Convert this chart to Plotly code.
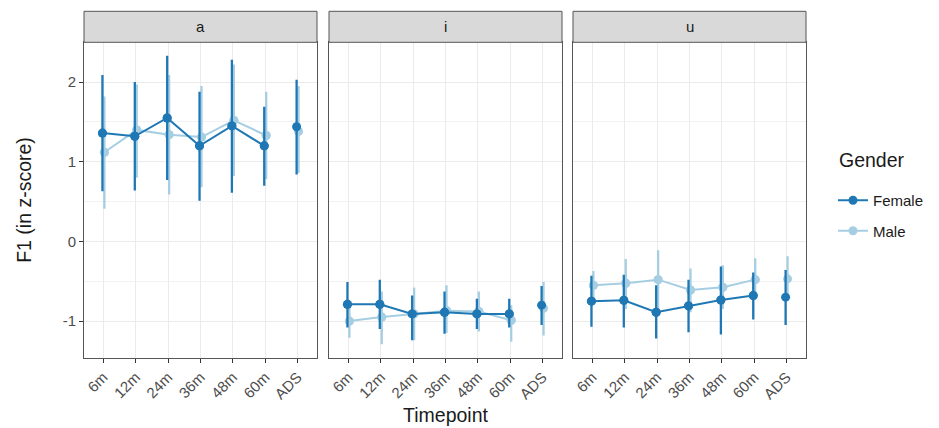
import plotly.graph_objects as go

categories = ["6m", "12m", "24m", "36m", "48m", "60m", "ADS"]
panels = ["a", "i", "u"]
y_ticks = [-1, 0, 1, 2]
y_tick_labels = ["-1", "0", "1", "2"]

# Female: mean, lower, upper per panel
female_a = [1.36, 1.32, 1.55, 1.20, 1.45, 1.20, 1.44]
female_a_lo = [0.63, 0.64, 0.77, 0.51, 0.61, 0.70, 0.84]
female_a_hi = [2.09, 2.00, 2.33, 1.88, 2.28, 1.69, 2.03]
male_a = [1.12, 1.40, 1.34, 1.31, 1.52, 1.33, 1.38]
male_a_lo = [0.41, 0.80, 0.59, 0.68, 0.82, 0.78, 0.86]
male_a_hi = [1.82, 1.97, 2.09, 1.95, 2.22, 1.88, 1.95]

female_i = [-0.79, -0.79, -0.91, -0.89, -0.91, -0.91, -0.80]
female_i_lo = [-1.08, -1.10, -1.24, -1.16, -1.10, -1.08, -1.05]
female_i_hi = [-0.51, -0.48, -0.68, -0.63, -0.72, -0.72, -0.56]
male_i = [-1.00, -0.95, -0.91, -0.87, -0.88, -0.99, -0.84]
male_i_lo = [-1.21, -1.29, -1.24, -1.15, -1.13, -1.26, -1.18]
male_i_hi = [-0.80, -0.63, -0.58, -0.55, -0.63, -0.80, -0.51]

female_u = [-0.75, -0.74, -0.89, -0.81, -0.735, -0.68, -0.70]
female_u_lo = [-1.07, -1.08, -1.22, -1.14, -1.17, -0.98, -1.05]
female_u_hi = [-0.43, -0.42, -0.55, -0.48, -0.315, -0.39, -0.36]
male_u = [-0.55, -0.525, -0.48, -0.61, -0.575, -0.48, -0.47]
male_u_lo = [-0.72, -0.85, -0.85, -0.89, -0.85, -0.72, -0.72]
male_u_hi = [-0.37, -0.22, -0.11, -0.34, -0.30, -0.21, -0.185]

data = {
    "a": {"Female": (female_a, female_a_lo, female_a_hi), "Male": (male_a, male_a_lo, male_a_hi)},
    "i": {"Female": (female_i, female_i_lo, female_i_hi), "Male": (male_i, male_i_lo, male_i_hi)},
    "u": {"Female": (female_u, female_u_lo, female_u_hi), "Male": (male_u, male_u_lo, male_u_hi)},
}

colors = {"Female": "#1f78b4", "Male": "#a6cee3"}
dodge = {"Female": -0.03, "Male": 0.03}

# page body has an 8px margin; lay out in figure pixels = page pixels - 8
OFF = 8
W, H = 939 - OFF, 428 - OFF
x_px = [(84 - OFF, 317 - OFF), (329 - OFF, 562 - OFF), (573 - OFF, 806 - OFF)]
y_top, y_bot = 42.3 - OFF, 357.7 - OFF
strip_top = 11.3 - OFF

fig = go.Figure()

for pi, p in enumerate(panels):
    xa = "x" if pi == 0 else f"x{pi+1}"
    ya = "y" if pi == 0 else f"y{pi+1}"
    for g in ["Male", "Female"]:
        m, lo, hi = data[p][g]
        xs = [k + dodge[g] for k in range(len(categories))]
        n_conn = 6  # ADS not connected to the timeline
        fig.add_trace(go.Scatter(
            x=xs, y=m, mode="markers", xaxis=xa, yaxis=ya,
            marker=dict(color=colors[g], size=9),
            error_y=dict(type="data", symmetric=False,
                         array=[h - v for h, v in zip(hi, m)],
                         arrayminus=[v - l for v, l in zip(m, lo)],
                         color=colors[g], thickness=2.3, width=0),
            showlegend=False, hoverinfo="skip"))
        fig.add_trace(go.Scatter(
            x=xs[:n_conn], y=m[:n_conn], mode="lines+markers", xaxis=xa, yaxis=ya,
            line=dict(color=colors[g], width=2),
            marker=dict(color=colors[g], size=9),
            name=g, legendgroup=g, legendrank=1 if g == "Female" else 2,
            showlegend=(pi == 0)))

layout = dict(
    width=W, height=H, margin=dict(l=0, r=0, t=0, b=0),
    plot_bgcolor="white", paper_bgcolor="white",
    font=dict(family="Liberation Sans, Arial, sans-serif", color="#4d4d4d", size=15),
    showlegend=True,
    legend=dict(x=(833 - OFF) / W, y=1 - (184 - OFF) / H, xanchor="left", yanchor="top",
                font=dict(size=15, color="#1a1a1a"), tracegroupgap=8,
                bgcolor="rgba(0,0,0,0)"),
)

shapes = []
annotations = []
for pi, p in enumerate(panels):
    sx = "" if pi == 0 else str(pi + 1)
    x0, x1 = x_px[pi]
    layout[f"xaxis{sx}"] = dict(
        domain=[x0 / W, x1 / W], anchor=f"y{sx}", range=[-0.6, 6.6],
        tickmode="array", tickvals=list(range(len(categories))), ticktext=categories,
        tickangle=-45, ticks="outside", ticklen=4, tickcolor="#333333", tickwidth=1,
        showgrid=True, gridcolor="#ebebeb", gridwidth=1, zeroline=False,
        showline=True, linecolor="#555555", linewidth=1, mirror=True,
        tickfont=dict(size=15, color="#4d4d4d"),
    )
    layout[f"yaxis{sx}"] = dict(
        domain=[1 - y_bot / H, 1 - y_top / H], anchor=f"x{sx}", range=[-1.46, 2.50],
        tickmode="array", tickvals=y_ticks, ticktext=y_tick_labels,
        ticks="outside" if pi == 0 else "", ticklen=4,
        tickcolor="#333333", showticklabels=(pi == 0),
        showgrid=True, gridcolor="#ebebeb", gridwidth=1.1, zeroline=False,
        minor=dict(tickvals=[-0.5, 0.5, 1.5], showgrid=True, gridcolor="#f2f2f2", gridwidth=0.6),
        showline=True, linecolor="#555555", linewidth=1, mirror=True,
        tickfont=dict(size=15, color="#4d4d4d"),
    )
    shapes.append(dict(type="rect", xref="paper", yref="paper",
                       x0=x0 / W, x1=x1 / W, y0=1 - y_top / H, y1=1 - strip_top / H,
                       fillcolor="#d9d9d9", line=dict(color="#555555", width=1), layer="above"))
    annotations.append(dict(text=p, xref="paper", yref="paper",
                            x=(x0 + x1) / 2 / W, y=1 - (y_top + strip_top) / 2 / H,
                            showarrow=False, font=dict(size=15, color="#1a1a1a"),
                            xanchor="center", yanchor="middle"))

# legend title
annotations.append(dict(text="Gender", xref="paper", yref="paper",
                        x=(837 - OFF) / W, y=1 - (160 - OFF) / H,
                        showarrow=False, font=dict(size=19.5, color="#1a1a1a"),
                        xanchor="left", yanchor="middle"))

layout["xaxis2"]["title"] = dict(text="Timepoint", font=dict(size=19.5, color="#1a1a1a"), standoff=6)
layout["yaxis"]["title"] = dict(text="F1 (in z-score)", font=dict(size=19.5, color="#1a1a1a"), standoff=25)
layout["shapes"] = shapes
layout["annotations"] = annotations
fig.update_layout(**layout)

fig.write_html("out.html")
